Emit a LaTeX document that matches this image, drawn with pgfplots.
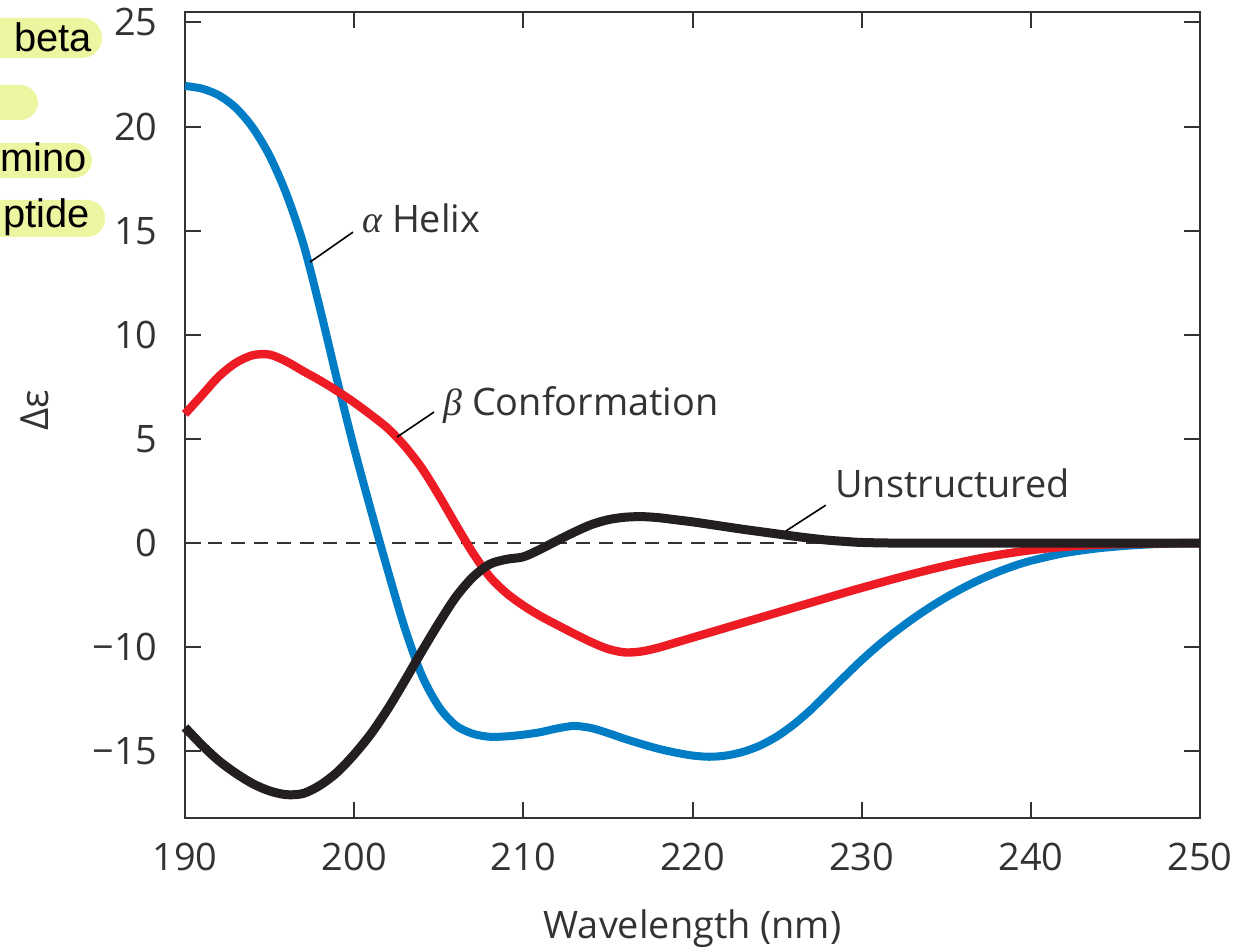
\documentclass[border=0pt]{standalone}
\usepackage{fontspec}
\setmainfont{Open Sans}
\newfontfamily\arialf{Liberation Sans}
\newfontfamily\greekf{Liberation Serif}
\usepackage{pgfplots}
\pgfplotsset{compat=1.18}
\definecolor{cdblue}{RGB}{0,125,197}
\definecolor{cdred}{RGB}{237,28,36}
\definecolor{cdblack}{RGB}{35,31,32}
\definecolor{hl}{RGB}{236,245,160}
\definecolor{axgray}{RGB}{51,51,51}

\pgfplotstableread{
x y
190 21.95
191 21.82
192 21.5
193 20.9
194 19.95
195 18.6
196 16.75
197 14.35
198 11.2
199 7.8
200 4.55
201 1.55
202 -1.35
203 -4.1
204 -6.35
205 -7.85
206 -8.75
207 -9.15
208 -9.3
209 -9.28
210 -9.2
211 -9.08
212 -8.9
213 -8.78
214 -8.88
215 -9.12
216 -9.4
217 -9.65
218 -9.88
219 -10.06
220 -10.2
221 -10.26
222 -10.2
223 -10.02
224 -9.72
225 -9.28
226 -8.7
227 -8.0
228 -7.2
229 -6.4
230 -5.62
231 -4.9
232 -4.25
233 -3.65
234 -3.1
235 -2.6
236 -2.15
237 -1.75
238 -1.4
239 -1.1
240 -0.85
242 -0.48
244 -0.25
246 -0.11
248 -0.03
250 0
}\helixtab

\pgfplotstableread{
x y
190 6.2
191 7.1
192 8.0
193 8.65
194 9.02
195 9.05
196 8.72
197 8.25
198 7.8
199 7.3
200 6.75
201 6.15
202 5.5
203 4.65
204 3.6
205 2.3
206 0.9
207 -0.45
208 -1.6
209 -2.4
210 -3.0
211 -3.5
212 -3.93
213 -4.35
214 -4.75
215 -5.08
216 -5.25
217 -5.2
218 -5.02
219 -4.78
220 -4.54
221 -4.3
222 -4.06
223 -3.82
224 -3.58
225 -3.34
226 -3.1
227 -2.86
228 -2.62
229 -2.38
230 -2.15
232 -1.7
234 -1.28
236 -0.9
238 -0.58
240 -0.34
242 -0.18
244 -0.08
247 -0.02
250 0
}\betatab

\pgfplotstableread{
x y
190 -8.85
191 -9.7
192 -10.45
193 -11.05
194 -11.55
195 -11.9
196 -12.08
197 -12.02
198 -11.62
199 -11.0
200 -10.15
201 -9.15
202 -7.95
203 -6.6
204 -5.2
205 -3.85
206 -2.6
207 -1.65
208 -1.02
209 -0.78
210 -0.66
211 -0.3
212 0.12
213 0.52
214 0.88
215 1.12
216 1.24
217 1.27
218 1.22
219 1.12
220 1.02
221 0.9
222 0.78
223 0.66
224 0.55
225 0.44
226 0.33
227 0.23
228 0.14
229 0.08
230 0.03
232 0.0
235 0.0
240 0.0
245 0.0
250 0.0
}\unstrtab

\begin{document}
\begin{tikzpicture}
\path[use as bounding box] (-92.5bp,-65bp) rectangle (525.5bp,409bp);
\begin{scope}
\clip (-92.5bp,280bp) rectangle (0bp,409bp);
\fill[hl, rounded corners=10bp] (-110bp,380bp) rectangle (-41.5bp,400bp);
\fill[hl, rounded corners=9bp] (-110bp,349bp) rectangle (-73.5bp,366.5bp);
\fill[hl, rounded corners=9bp] (-110bp,320bp) rectangle (-46.5bp,337.5bp);
\fill[hl, rounded corners=9bp] (-110bp,290.5bp) rectangle (-40bp,309bp);
\node[anchor=base east, inner sep=0pt, font=\arialf\fontsize{20}{24}\selectfont] at (-46.5bp,383bp) {beta};
\node[anchor=base east, inner sep=0pt, font=\arialf\fontsize{20}{24}\selectfont] at (-49bp,323bp) {mino};
\node[anchor=base east, inner sep=0pt, font=\arialf\fontsize{20}{24}\selectfont] at (-47.5bp,295bp) {ptide};
\end{scope}
\begin{axis}[
  at={(0,0)}, anchor=south west,
  scale only axis, width=507.5bp, height=403bp,
  xmin=190, xmax=250, ymin=-13.2, ymax=25.5,
  axis line style={axgray, line width=1bp},
  every tick/.style={axgray, line width=1bp},
  tick align=inside, major tick length=8bp,
  xtick={190,200,210,220,230,240,250},
  xticklabels={190,200,210,220,230,240,250},
  ytick={-10,-5,0,5,10,15,20,25},
  yticklabels={−15,−10,0,5,10,15,20,25},
  ticklabel style={font=\fontsize{19}{23}\selectfont, text=axgray},
  xticklabel style={anchor=north, inner sep=0pt, yshift=-12.5bp},
  yticklabel style={anchor=east, inner sep=0pt, xshift=-13.5bp},
  xlabel={Wavelength (nm)},
  xlabel style={at={(axis description cs:0.5,-0.1489)}, anchor=base, font=\fontsize{19}{23}\selectfont, text=axgray},
  ylabel={Δε},
  ylabel style={at={(axis description cs:-0.1478,0.506)}, anchor=center, font=\fontsize{19.5}{23}\selectfont, text=axgray},
  clip=false,
]
\draw[axgray, line width=1bp, dash pattern=on 7bp off 4.5bp] (axis cs:190,0) -- (axis cs:250,0);
\addplot[cdblue, line width=4bp, smooth, no markers] table[x=x,y=y] {\helixtab};
\addplot[cdred, line width=4.2bp, smooth, no markers] table[x=x,y=y] {\betatab};
\addplot[cdblack, line width=4.5bp, smooth, no markers] table[x=x,y=y] {\unstrtab};

\draw[black, line width=0.8bp] (axis cs:197.39,13.49) -- (axis cs:199.93,14.93);
\draw[black, line width=0.8bp] (axis cs:202.53,5.09) -- (axis cs:204.72,6.29);
\draw[black, line width=0.8bp] (axis cs:225.52,0.58) -- (axis cs:227.88,1.82);
\node[anchor=base west, inner sep=0pt, font=\fontsize{19}{23}\selectfont, text=axgray] at (axis cs:200.46,14.93) {{\greekf\itshape α} Helix};
\node[anchor=base west, inner sep=0pt, font=\fontsize{19}{23}\selectfont, text=axgray] at (axis cs:205.25,6.14) {{\greekf\itshape β} Conformation};
\node[anchor=base west, inner sep=0pt, font=\fontsize{19}{23}\selectfont, text=axgray] at (axis cs:228.42,2.2) {Unstructured};
\end{axis}
\end{tikzpicture}
\end{document}
